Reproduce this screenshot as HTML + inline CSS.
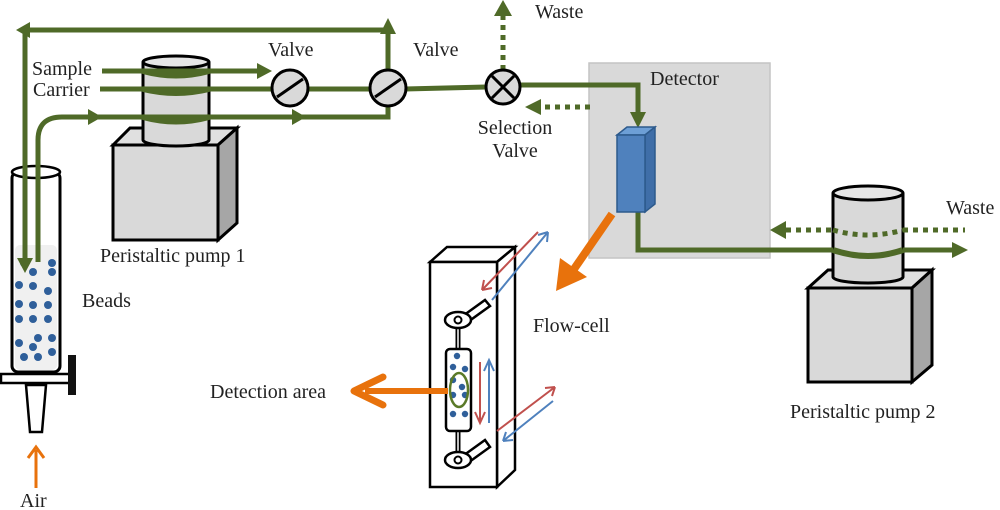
<!DOCTYPE html>
<html><head><meta charset="utf-8"><style>
html,body{margin:0;padding:0;background:#fff;}
svg{display:block;}
text{font-family:"Liberation Serif",serif;fill:#222;}
</style></head><body>
<svg width="1000" height="510" viewBox="0 0 1000 510" xmlns="http://www.w3.org/2000/svg">
<!-- Detector box -->
<rect x="589" y="63" width="181" height="195" fill="#d9d9d9" stroke="#c4c4c4" stroke-width="1.5"/>
<text x="650" y="85" font-size="20">Detector</text>

<!-- column -->
<rect x="12" y="172" width="48" height="200" rx="6" fill="#fff" stroke="#000" stroke-width="3"/>
<rect x="15" y="245" width="42" height="125" rx="5" fill="#f0f0f0"/>
<ellipse cx="36" cy="172" rx="24" ry="6" fill="#fff" stroke="#000" stroke-width="2.5"/>
<g fill="#2f5f9a">
<circle cx="24" cy="263" r="4"/><circle cx="52" cy="263" r="4"/><circle cx="33" cy="272" r="4"/><circle cx="52" cy="272" r="4"/>
<circle cx="19" cy="285" r="4"/><circle cx="33" cy="286" r="4"/><circle cx="48" cy="291" r="4"/>
<circle cx="19" cy="304" r="4"/><circle cx="33" cy="305" r="4"/><circle cx="48" cy="305" r="4"/>
<circle cx="19" cy="319" r="4"/><circle cx="33" cy="319" r="4"/><circle cx="48" cy="319" r="4"/>
<circle cx="19" cy="343" r="4"/><circle cx="38" cy="338" r="4"/><circle cx="52" cy="338" r="4"/>
<circle cx="33" cy="347" r="4"/><circle cx="24" cy="357" r="4"/><circle cx="38" cy="357" r="4"/><circle cx="52" cy="352" r="4"/>
</g>
<rect x="1" y="374" width="72" height="9" fill="#fff" stroke="#000" stroke-width="2.5"/>
<rect x="68" y="355" width="8" height="40" fill="#111"/>
<path d="M26,385 L46,385 L42,432 L30,432 Z" fill="#fff" stroke="#000" stroke-width="2.5"/>
<text x="82" y="307" font-size="20">Beads</text>
<line x1="36" y1="488" x2="36" y2="450" stroke="#e8720c" stroke-width="3"/>
<path d="M28,458 L36,447 L44,458" fill="none" stroke="#e8720c" stroke-width="3"/>
<text x="20" y="507" font-size="20">Air</text>

<!-- Pump 1 -->
<path d="M113,145 L130,128 L237,128 L218,145 Z" fill="#e0e0e0" stroke="#000" stroke-width="3"/>
<path d="M218,145 L237,128 L237,223 L218,240 Z" fill="#a6a6a6" stroke="#000" stroke-width="3"/>
<rect x="113" y="145" width="105" height="95" fill="#d9d9d9" stroke="#000" stroke-width="3"/>
<path d="M143,62 L143,140 A33,6 0 0 0 209,140 L209,62" fill="#d9d9d9" stroke="#000" stroke-width="3"/>
<ellipse cx="176" cy="62" rx="33" ry="6" fill="#e6e6e6" stroke="#000" stroke-width="3"/>
<text x="100" y="262" font-size="20">Peristaltic pump 1</text>

<!-- Green tubes -->
<g fill="none" stroke="#4f6a28" stroke-width="5">
<path d="M388,75 L388,30 L25,30 L25,262"/>
<path d="M102,71 L262,71"/>
<path d="M100,89 L272,89"/>
<path d="M308,89 L370,89"/>
<path d="M405,89 L486,87"/>
<path d="M38,262 L38,140 Q38,117 62,117 L388,117 L388,107"/>
<path d="M520,85 L638,85 L638,122"/>
<path d="M638,212 L638,250 L958,250"/>
<path d="M143,71 Q176,80 209,71" stroke-width="6"/>
<path d="M143,89 Q176,97 209,89" stroke-width="6"/>
<path d="M143,117 Q176,126 209,117" stroke-width="6"/>
</g>
<g fill="#4f6a28">
<path d="M16,30 L30,22 L30,38 Z"/>
<path d="M388,18 L380,34 L396,34 Z"/>
<path d="M25,273 L17,258 L33,258 Z"/>
<path d="M272,71 L257,63 L257,79 Z"/>
<path d="M102,117 L88,109 L88,125 Z"/>
<path d="M306,117 L292,109 L292,125 Z"/>
<path d="M638,128 L630,112 L646,112 Z"/>
<path d="M968,250 L952,242 L952,258 Z"/>
<path d="M503,0 L494,16 L512,16 Z"/>
<path d="M525,107 L541,99 L541,115 Z"/>
<path d="M770,230 L786,221 L786,239 Z"/>
</g>
<g fill="none" stroke="#4f6a28" stroke-width="5" stroke-dasharray="5,5">
<path d="M503,70 L503,16"/>
<path d="M590,107 L541,107"/>
</g>

<!-- Valves -->
<circle cx="290" cy="88" r="18" fill="#d9d9d9" stroke="#000" stroke-width="3"/>
<line x1="277" y1="97" x2="303" y2="79" stroke="#000" stroke-width="3"/>
<circle cx="388" cy="88" r="18" fill="#d9d9d9" stroke="#000" stroke-width="3"/>
<line x1="375" y1="97" x2="401" y2="79" stroke="#000" stroke-width="3"/>
<text x="268" y="56" font-size="20">Valve</text>
<text x="413" y="56" font-size="20">Valve</text>
<text x="32" y="75" font-size="20">Sample</text>
<text x="33" y="96" font-size="20">Carrier</text>
<circle cx="503" cy="87" r="17" fill="#d9d9d9" stroke="#000" stroke-width="3"/>
<line x1="492" y1="76" x2="514" y2="98" stroke="#000" stroke-width="3"/>
<line x1="514" y1="76" x2="492" y2="98" stroke="#000" stroke-width="3"/>
<text x="535" y="18" font-size="20">Waste</text>
<text x="515" y="134" font-size="20" text-anchor="middle">Selection</text>
<text x="515" y="157" font-size="20" text-anchor="middle">Valve</text>

<!-- Detector cell -->
<path d="M617,135 L627,127 L655,127 L645,135 Z" fill="#6d9fd6" stroke="#2d5a8c" stroke-width="1.5"/>
<path d="M645,135 L655,127 L655,204 L645,212 Z" fill="#3f6ea8" stroke="#2d5a8c" stroke-width="1.5"/>
<rect x="617" y="135" width="28" height="77" fill="#4f81bd" stroke="#2d5a8c" stroke-width="1.5"/>

<!-- Pump 2 -->
<path d="M808,288 L828,270 L932,270 L912,288 Z" fill="#e0e0e0" stroke="#000" stroke-width="3"/>
<path d="M912,288 L932,270 L932,365 L912,382 Z" fill="#a6a6a6" stroke="#000" stroke-width="3"/>
<rect x="808" y="288" width="104" height="94" fill="#d9d9d9" stroke="#000" stroke-width="3"/>
<path d="M833,193 L833,277 A35,6 0 0 0 903,277 L903,193" fill="#d9d9d9" stroke="#000" stroke-width="3"/>
<ellipse cx="868" cy="193" rx="35" ry="7" fill="#e6e6e6" stroke="#000" stroke-width="3"/>
<path d="M770,250 L833,250 M903,250 L958,250" stroke="#4f6a28" stroke-width="5"/>
<path d="M833,250 Q868,262 903,250" fill="none" stroke="#4f6a28" stroke-width="6"/>
<path d="M786,230 L833,230 M903,230 L965,230" stroke="#4f6a28" stroke-width="5" stroke-dasharray="5,5"/>
<path d="M833,230 Q868,240 903,230" fill="none" stroke="#4f6a28" stroke-width="5" stroke-dasharray="5,5"/>
<text x="946" y="214" font-size="20">Waste</text>
<text x="790" y="418" font-size="20">Peristaltic pump 2</text>

<!-- Orange big arrow -->
<line x1="612" y1="214" x2="572" y2="272" stroke="#e8720c" stroke-width="8"/>
<path d="M556,291 L560,258 L587,277 Z" fill="#e8720c"/>

<!-- Flow cell -->
<path d="M430,262 L447,247 L515,247 L497,262 Z" fill="#fff" stroke="#000" stroke-width="2.5"/>
<path d="M497,262 L515,247 L515,470 L497,487 Z" fill="#fff" stroke="#000" stroke-width="2.5"/>
<rect x="430" y="262" width="67" height="225" fill="#fff" stroke="#000" stroke-width="2.5"/>
<line x1="458" y1="325" x2="458" y2="350" stroke="#000" stroke-width="5"/>
<line x1="458" y1="430" x2="458" y2="455" stroke="#000" stroke-width="5"/>
<line x1="458" y1="325" x2="458" y2="350" stroke="#fff" stroke-width="1.5"/>
<line x1="458" y1="430" x2="458" y2="455" stroke="#fff" stroke-width="1.5"/>
<path d="M460,318 L485,300 L490,306 L465,324 Z" fill="#fff" stroke="#000" stroke-width="2.5"/>
<ellipse cx="458" cy="320" rx="13" ry="8" fill="#fff" stroke="#000" stroke-width="2.5"/>
<circle cx="458" cy="320" r="3.5" fill="#fff" stroke="#000" stroke-width="2"/>
<path d="M460,458 L485,440 L490,447 L465,465 Z" fill="#fff" stroke="#000" stroke-width="2.5"/>
<ellipse cx="458" cy="460" rx="13" ry="8" fill="#fff" stroke="#000" stroke-width="2.5"/>
<circle cx="458" cy="460" r="3.5" fill="#fff" stroke="#000" stroke-width="2"/>
<rect x="446" y="349" width="25" height="82" rx="4" fill="#fff" stroke="#000" stroke-width="2.5"/>
<g fill="#2f5f9a">
<circle cx="457" cy="356" r="3.2"/><circle cx="453" cy="367" r="3.2"/><circle cx="465" cy="369" r="3.2"/>
<circle cx="453" cy="380" r="3.2"/><circle cx="462" cy="387" r="3.2"/><circle cx="453" cy="395" r="3.2"/>
<circle cx="465" cy="395" r="3.2"/><circle cx="453" cy="414" r="3.2"/><circle cx="465" cy="414" r="3.2"/>
</g>
<ellipse cx="459" cy="390" rx="9" ry="17" fill="none" stroke="#5a7a28" stroke-width="2.5"/>
<line x1="448" y1="391" x2="365" y2="391" stroke="#e8720c" stroke-width="6"/>
<path d="M383,377 L354,391 L383,405" fill="none" stroke="#e8720c" stroke-width="7" stroke-linecap="round" stroke-linejoin="round"/>
<text x="210" y="398" font-size="20">Detection area</text>
<text x="533" y="332" font-size="20">Flow-cell</text>
<g fill="none" stroke-width="2">
<path d="M538,232 L482,290 M482,290 L484,280 M482,290 L492,288" stroke="#c0504d"/>
<path d="M492,300 L548,232 M548,232 L538,235 M548,232 L547,242" stroke="#4f81bd"/>
<path d="M480,362 L480,423 M475,412 L480,423 L485,412" stroke="#c0504d"/>
<path d="M489,423 L489,360 M484,371 L489,360 L494,371" stroke="#4f81bd"/>
<path d="M497,431 L555,387 M555,387 L545,388 M555,387 L552,396" stroke="#c0504d"/>
<path d="M553,401 L503,441 M503,441 L513,440 M503,441 L506,432" stroke="#4f81bd"/>
</g>
</svg>
</body></html>
